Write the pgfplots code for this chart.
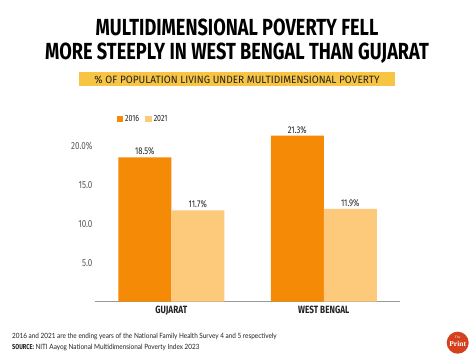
\documentclass[border=0pt]{standalone}
\usepackage{pgfplots}
\pgfplotsset{compat=1.18}
\usepackage{fontspec}
\setmainfont{Fira Sans}
\newfontfamily\condfont[FakeStretch=0.78]{Fira Sans}
\newfontfamily\subfont[FakeStretch=0.95]{Fira Sans}
\newfontfamily\notefont[FakeStretch=0.89]{Lato}
\newfontfamily\logofont{Liberation Serif}
\definecolor{c2016}{HTML}{F58A07}
\definecolor{c2021}{HTML}{FDC97A}
\definecolor{subyellow}{HTML}{F7C443}
\definecolor{tickgray}{HTML}{5A5A5A}
\definecolor{darktext}{HTML}{222222}
\definecolor{logored}{HTML}{D5401F}
\begin{document}
\begin{tikzpicture}
\fill[white] (0,0) rectangle (474pt,-358pt);
\path[use as bounding box] (0,0) rectangle (474pt,-358pt);
\node[anchor=base, inner sep=0, text=black, font=\condfont\bfseries\fontsize{23.3}{26}\selectfont] at (237pt,-36pt) {MULTIDIMENSIONAL POVERTY FELL};
\node[anchor=base, inner sep=0, text=black, font=\condfont\bfseries\fontsize{23.3}{26}\selectfont] at (237pt,-59.3pt) {MORE STEEPLY IN WEST BENGAL THAN GUJARAT};
\fill[subyellow] (79pt,-71.7pt) rectangle (395pt,-86pt);
\node[anchor=base, inner sep=0, text=darktext, font=\subfont\fontsize{10.6}{12}\selectfont] at (237pt,-83.3pt) {\% OF POPULATION LIVING UNDER MULTIDIMENSIONAL POVERTY};
\begin{axis}[
  at={(95pt,-301.7pt)}, anchor=south west,
  scale only axis, width=305pt, height=171.6pt,
  xmin=0.5, xmax=2.5, ymin=0, ymax=22,
  ybar=0pt, bar width=53pt,
  axis x line*=bottom, axis y line*=left,
  y axis line style={draw=none},
  x axis line style={draw=gray!80, line width=0.8pt},
  major tick length=0pt,
  xtick={1,2}, xticklabels={GUJARAT,WEST BENGAL},
  ytick={5,10,15,20}, yticklabels={5.0,10.0,15.0,20.0\%},
  /pgf/number format/assume math mode=true,
  yticklabel style={font=\condfont\fontsize{10.3}{12}\selectfont, text=tickgray, xshift=1pt},
  xticklabel style={font=\condfont\bfseries\fontsize{10.5}{12}\selectfont, text=darktext, yshift=-1pt},
  nodes near coords={\pgfmathprintnumber[fixed,precision=1,fixed zerofill]{\pgfplotspointmeta}\%},
  every node near coord/.append style={font=\condfont\fontsize{9.8}{11}\selectfont, text=darktext, inner sep=2pt},
  legend columns=2,
  legend style={at={(axis description cs:0.07,1.065)}, anchor=west, draw=none, fill=none,
    font=\condfont\fontsize{9}{10}\selectfont, text=darktext, inner sep=0pt,
    /tikz/every even column/.append style={column sep=4pt}},
  legend image code/.code={\fill[#1] (0pt,-3.3pt) rectangle (6.6pt,3.3pt);},
]
\addplot[draw=none, fill=c2016] coordinates {(1,18.5) (2,21.3)};
\addplot[draw=none, fill=c2021] coordinates {(1,11.7) (2,11.9)};
\legend{2016,2021}
\end{axis}
\node[anchor=base west, inner sep=0, text=darktext, font=\notefont\fontsize{7.2}{9}\selectfont] at (12pt,-338.7pt) {2016 and 2021 are the ending years of the National Family Health Survey 4 and 5 respectively};
\node[anchor=base west, inner sep=0, text=darktext, font=\notefont\fontsize{7.2}{9}\selectfont] at (12pt,-349.3pt) {{\condfont\bfseries SOURCE:}\ NITI Aayog National Multidimensional Poverty Index 2023};
\fill[logored] (457.7pt,-342.7pt) circle (11pt);
\node[inner sep=0, text=white, font=\logofont\fontsize{3.5}{4}\selectfont] at (457.7pt,-337.5pt) {The};
\node[inner sep=0, text=white, font=\logofont\bfseries\fontsize{7.5}{8}\selectfont] at (457.7pt,-343.5pt) {Print};
\end{tikzpicture}
\end{document}
